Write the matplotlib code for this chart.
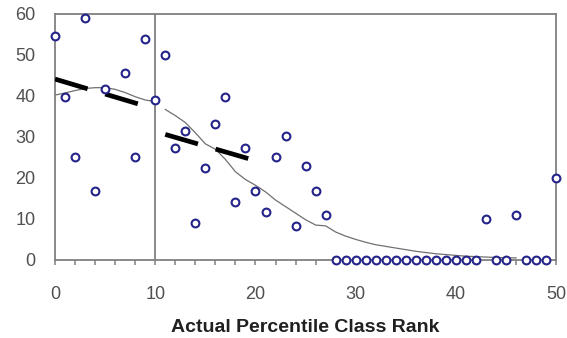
import numpy as np
import matplotlib.pyplot as plt

# observed counts by actual percentile class rank
ranks = [0, 1, 2, 3, 4, 5, 7, 8, 9, 10, 11, 12, 13, 14, 15, 16, 17, 18, 19, 20,
         21, 22, 23, 24, 25, 26, 27, 28, 29, 30, 31, 32, 33, 34, 35, 36, 37, 38,
         39, 40, 41, 42, 43, 44, 45, 46, 47, 48, 49, 50]
counts = [54.5, 39.8, 25, 59, 16.7, 41.6, 45.5, 25, 53.9, 38.9, 50, 27.2, 31.5,
          8.9, 22.5, 33.2, 39.8, 14.2, 27.2, 16.7, 11.6, 25, 30.1, 8.3, 23, 16.7,
          11, 0, 0, 0, 0, 0, 0, 0, 0, 0, 0, 0, 0, 0, 0, 0, 9.9, 0, 0, 11, 0, 0, 0,
          19.9]

# smoothed curve (break between 10 and 11)
smooth_x = [0, 1, 2, 3, 4, 5, 6, 7, 8, 9, 10, np.nan,
            11, 12, 13, 14, 15, 16, 17, 18, 19, 20, 21, 22, 23, 24, 25, 26, 27,
            28, 29, 30, 31, 32, 33, 34, 35, 36, 37, 38, 39, 40, 41, 42, 43, 44,
            45, 46]
smooth_y = [40.2, 40.7, 41.3, 41.8, 42, 42, 41.6, 40.8, 39.8, 39, 38.6, np.nan,
            36.7, 35.2, 33.5, 31, 28.3, 27, 24.5, 21.5, 19.6, 18.2, 16.6, 14.6,
            13, 11.4, 9.8, 8.5, 8.3, 6.8, 5.8, 5.0, 4.3, 3.7, 3.3, 2.9, 2.5, 2.1,
            1.8, 1.5, 1.3, 1.1, 0.9, 0.8, 0.7, 0.6, 0.5, 0.5]

# trend lines for the two bands
trend1_x = [0, 10]
trend1_y = [44.1, 36.8]
trend2_x = [11, 20]
trend2_y = [30.6, 24.2]

spine_col = '#808080'
text_col = '#505050'

fig = plt.figure(figsize=(5.67, 3.38), dpi=100)
ax = fig.add_axes([0.097, 0.231, 0.884, 0.728])

ax.plot(smooth_x, smooth_y, color='#707070', lw=0.9, zorder=2)
ax.plot(trend1_x, trend1_y, color='black', lw=3.4, dashes=[7.2, 3.9],
        solid_capstyle='butt', dash_capstyle='butt', zorder=3)
ax.plot(trend2_x, trend2_y, color='black', lw=3.4, dashes=[7.2, 3.9],
        solid_capstyle='butt', dash_capstyle='butt', zorder=3)
ax.axvline(10, color=spine_col, lw=1.3, zorder=1)
ax.plot(ranks, counts, linestyle='none', marker='o', ms=5.6, mew=1.5,
        mfc='white', mec='#23238a', clip_on=False, zorder=4)

ax.set_xlim(0, 50)
ax.set_ylim(0, 60)
ax.set_xticks(range(0, 51, 10))
ax.set_xticks(range(0, 51, 2), minor=True)
ax.set_yticks(range(0, 61, 10))

for s in ax.spines.values():
    s.set_color(spine_col)
    s.set_linewidth(1.3)

ax.tick_params(axis='x', which='both', direction='out', length=3.6,
               width=1.1, color=spine_col, pad=15)
ax.tick_params(axis='y', length=0, pad=14)
ax.tick_params(labelsize=13, labelcolor=text_col)
for lab in ax.get_xticklabels() + ax.get_yticklabels():
    lab.set_family('Liberation Sans')

ax.set_xlabel('Actual Percentile Class Rank', fontsize=14, fontweight='bold',
              family='Liberation Sans', color='#202020', labelpad=12)

fig.savefig('out.png', dpi=100)
